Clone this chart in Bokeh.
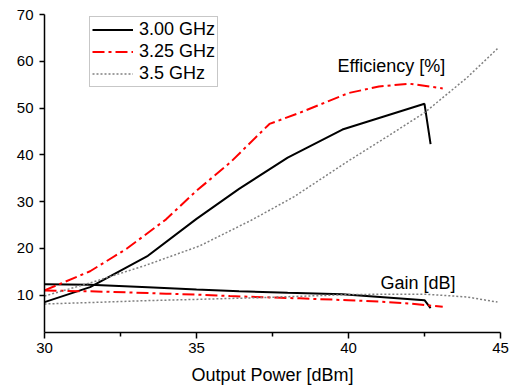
from bokeh.plotting import figure
from bokeh.models import Range1d, FixedTicker, Legend, LegendItem, Label
from bokeh.embed import file_html
from bokeh.resources import INLINE

# Data
f300_x = [30.0, 31.5, 33.4, 35.0, 36.4, 38.0, 39.8, 42.5, 42.7]
f300_eff = [8.5, 11.7, 18.4, 26.3, 32.7, 39.4, 45.4, 50.9, 42.3]
f300_gain = [12.3, 12.2, 11.7, 11.2, 10.8, 10.5, 10.2, 8.9, 7.2]

f325_x = [30.0, 31.5, 32.7, 34.0, 35.0, 36.1, 37.4, 38.4, 40.0, 41.0, 42.0, 43.1]
f325_eff = [11.0, 15.1, 19.9, 26.2, 32.3, 38.3, 46.6, 49.0, 53.2, 54.6, 55.2, 54.2]
f325_gain = [11.0, 10.8, 10.6, 10.3, 10.1, 9.8, 9.5, 9.3, 8.9, 8.6, 8.2, 7.5]

f35_x = [30.0, 31.5, 33.3, 35.1, 36.8, 38.2, 40.0, 41.3, 42.5, 43.9, 44.9]
f35_eff = [9.8, 12.6, 16.3, 20.5, 26.0, 31.0, 38.7, 44.0, 49.0, 56.5, 62.7]
f35_gain = [8.1, 8.4, 8.8, 9.1, 9.4, 9.7, 10.1, 10.2, 10.2, 9.6, 8.5]

series_labels = ["3.00 GHz", "3.25 GHz", "3.5 GHz"]
x_ticks = [30, 35, 40, 45]
x_minor = [32.5, 37.5, 42.5]
y_ticks = [10, 20, 30, 40, 50, 60, 70]

FONT = "Liberation Sans"

p = figure(width=514, height=392, output_backend="svg", toolbar_location=None,
           x_range=Range1d(30, 45), y_range=Range1d(2, 70),
           min_border_left=44, min_border_right=14, min_border_top=14, min_border_bottom=60)
p.outline_line_color = None
p.xgrid.visible = False
p.ygrid.visible = False
p.background_fill_color = "white"
p.border_fill_color = "white"

r1 = p.line(f300_x, f300_eff, line_color="black", line_width=2)
p.line(f300_x, f300_gain, line_color="black", line_width=2)
r2 = p.line(f325_x, f325_eff, line_color="#ff0000", line_width=2, line_dash="12 4 3 4")
p.line(f325_x, f325_gain, line_color="#ff0000", line_width=2, line_dash="12 4 3 4")
r3 = p.line(f35_x, f35_eff, line_color="#808080", line_width=1.5, line_dash="2 2")
p.line(f35_x, f35_gain, line_color="#808080", line_width=1.5, line_dash="2 2")

for ax in (p.xaxis[0], p.yaxis[0]):
    ax.axis_line_color = "black"
    ax.axis_line_width = 1.5
    ax.major_tick_line_color = "black"
    ax.major_tick_line_width = 1.5
    ax.minor_tick_line_color = "black"
    ax.minor_tick_line_width = 1.5
    ax.major_label_text_font = FONT
    ax.major_label_text_font_size = "15px"
    ax.major_label_text_color = "black"
    ax.axis_label_text_font = FONT
    ax.axis_label_text_font_size = "18px"
    ax.axis_label_text_font_style = "normal"
    ax.axis_label_text_color = "black"

p.xaxis.ticker = FixedTicker(ticks=x_ticks, minor_ticks=x_minor)
p.xaxis.major_tick_in = 0
p.xaxis.major_tick_out = 6
p.xaxis.minor_tick_in = 0
p.xaxis.minor_tick_out = 4
p.xaxis.major_label_standoff = 4
p.xaxis.axis_label = "Output Power [dBm]"
p.xaxis.axis_label_standoff = 9

p.yaxis.ticker = FixedTicker(ticks=y_ticks, minor_ticks=[])
p.yaxis.major_tick_in = 0
p.yaxis.major_tick_out = 5
p.yaxis.minor_tick_out = 0
p.yaxis.major_label_standoff = 6

legend = Legend(items=[LegendItem(label=series_labels[0], renderers=[r1]),
                       LegendItem(label=series_labels[1], renderers=[r2]),
                       LegendItem(label=series_labels[2], renderers=[r3])],
                location=(45, 245))
legend.label_text_font = FONT
legend.label_text_font_size = "18px"
legend.label_text_color = "black"
legend.glyph_width = 41
legend.glyph_height = 21
legend.label_height = 21
legend.label_standoff = 6
legend.spacing = 1
legend.padding = 2
legend.margin = 0
legend.border_line_color = "#909090"
legend.border_line_width = 1
legend.background_fill_color = "white"
legend.background_fill_alpha = 1
p.add_layout(legend)

p.add_layout(Label(x=39.64, y=59.0, text="Efficiency [%]", text_font=FONT,
                   text_font_size="18px", text_color="black", text_baseline="alphabetic"))
p.add_layout(Label(x=41.05, y=12.5, text="Gain [dB]", text_font=FONT,
                   text_font_size="18px", text_color="black", text_baseline="alphabetic"))

open("out.html", "w").write(file_html(p, INLINE))
